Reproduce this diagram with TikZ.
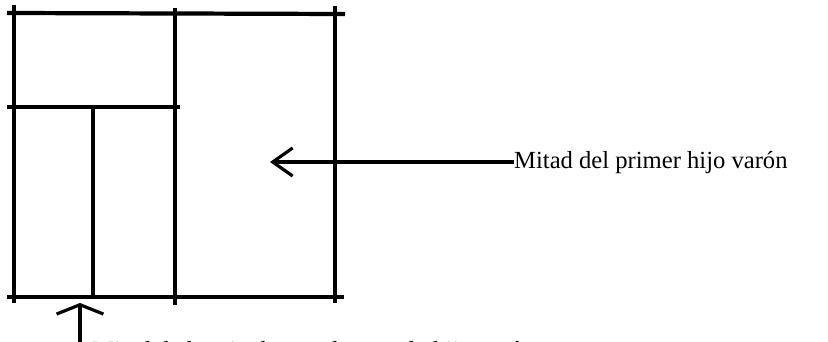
\documentclass[tikz,border=0pt]{standalone}
\usepackage{fontspec}
\setmainfont{Liberation Serif}
\usetikzlibrary{arrows.meta}

\tikzset{
  marco/.style={line width=3.6pt},
  parte/.style={line width=2.9pt},
  flecha/.style={line width=2.7pt,-{Straight Barb[length=17pt,width=24pt,line width=2.7pt]}},
  flechab/.style={line width=2.7pt,-{Straight Barb[length=8pt,width=40pt,line width=2.7pt]}},
  rotulo/.style={inner sep=0pt,font=\fontsize{21}{25}\selectfont}
}

\begin{document}
\begin{tikzpicture}[x=0.03cm,y=-0.03cm]
  \useasboundingbox (0,0) rectangle (828,342);
  %\draw[step=50,gray,very thin] (0,0) grid (828,342);

  % the square
  \draw[marco] (7,13) -- (345,14);
  \draw[marco] (7,297) -- (344,297);
  \draw[marco] (14,5) -- (14,303);
  \draw[marco] (335,6) -- (335,303);

  % halves and quarters
  \draw[parte] (175,8) -- (175,305);
  \draw[parte] (7,107) -- (180,107);
  \draw[parte] (93,105) -- (93,297);

  \coordinate (mitad) at (270,162);
  \coordinate (cuarto) at (80,303);

  \node[rotulo,anchor=base west] (primer) at (514,169) {Mitad del primer hijo varón};
  \node[rotulo,anchor=base west] (segundo) at (92,358) {Mitad de la mitad para el segundo hijo varón};

  \draw[flecha] (primer.west |- mitad) -- (mitad);
  \draw[flechab] (cuarto |- segundo.south) -- (cuarto);
\end{tikzpicture}
\end{document}
